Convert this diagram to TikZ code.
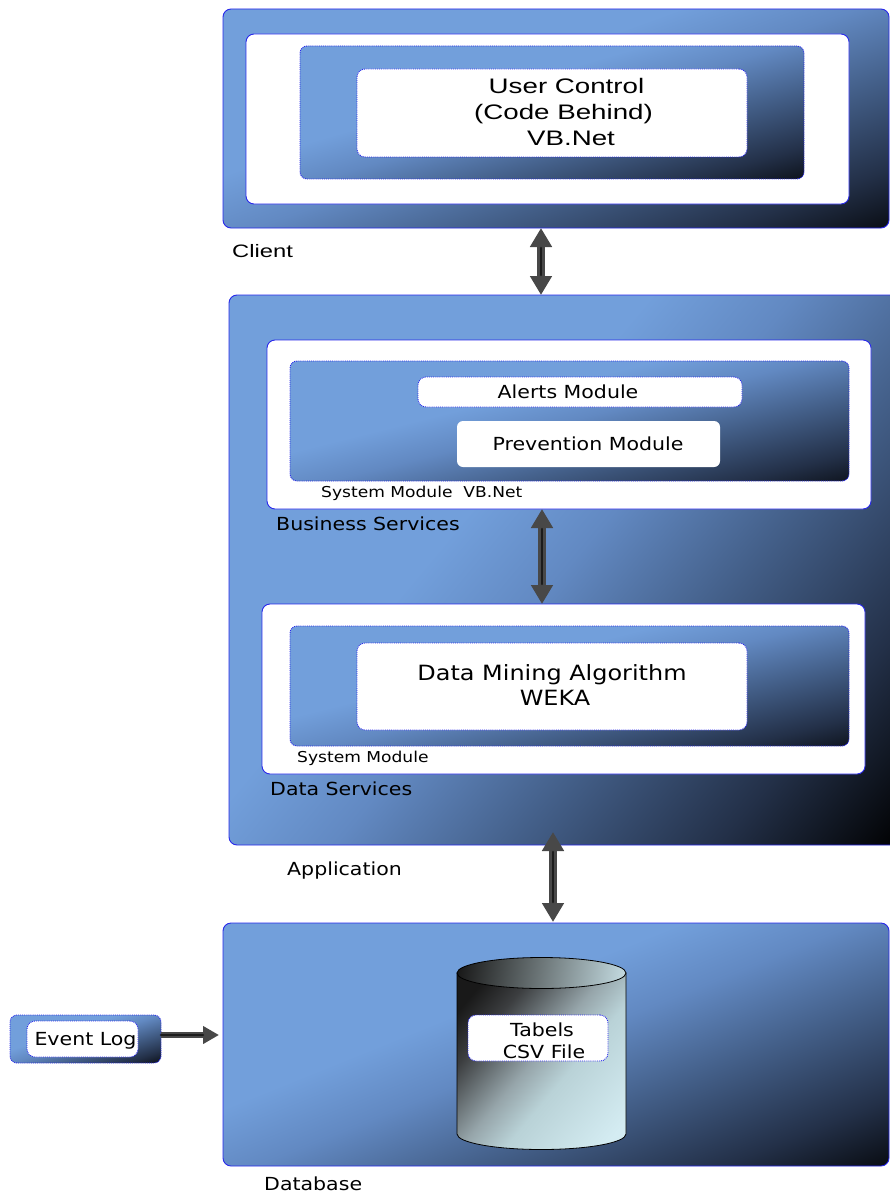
\documentclass[tikz,border=0pt]{standalone}
\usepackage{fontspec}
\usetikzlibrary{arrows.meta}
\newfontfamily\tah[FakeStretch=1.14]{DejaVu Sans}
\newfontfamily\ari[FakeStretch=1.32]{Liberation Sans}
\definecolor{lb}{RGB}{114,159,219}
\definecolor{gmid}{RGB}{98,137,194}
\definecolor{gdark}{RGB}{68,96,138}
\definecolor{gdeep}{RGB}{35,48,72}
\definecolor{bline}{RGB}{40,40,235}
\definecolor{cylA}{RGB}{25,25,25}
\definecolor{cylD}{RGB}{60,62,64}
\definecolor{cylM}{RGB}{150,165,170}
\definecolor{cylB}{RGB}{185,210,215}
\definecolor{cylC}{RGB}{212,236,242}
\definecolor{topM}{RGB}{110,120,122}
\definecolor{topC}{RGB}{195,218,224}
\definecolor{arr}{RGB}{72,72,72}
\definecolor{arrc}{RGB}{28,28,28}
\pgfdeclarehorizontalshading{bdark}{100bp}{color(0bp)=(lb); color(41bp)=(lb); color(50bp)=(gmid); color(61bp)=(gdark); color(74bp)=(gdeep); color(85.4bp)=(black); color(100bp)=(black)}
\pgfdeclarehorizontalshading{cylsh}{100bp}{color(0bp)=(cylA); color(22bp)=(cylA); color(32bp)=(cylD); color(48bp)=(cylM); color(58bp)=(cylB); color(80bp)=(cylC); color(100bp)=(cylC)}
\pgfdeclarehorizontalshading{topsh}{100bp}{color(0bp)=(cylA); color(22bp)=(cylA); color(50bp)=(topM); color(78bp)=(topC); color(100bp)=(topC)}
\begin{document}
\begin{tikzpicture}[x=1pt,y=-1pt,
  outerbox/.style={shade, shading=bdark, shading angle=#1, draw=bline, line width=0.9pt,
    rounded corners=8pt, inner sep=0pt, outer sep=0pt, anchor=north west},
  innerbox/.style={outerbox=#1, densely dotted, rounded corners=7pt},
  whitebox/.style={fill=white, draw=bline, line width=0.9pt, rounded corners=8pt,
    inner sep=0pt, outer sep=0pt, anchor=north west},
  whitedot/.style={whitebox, densely dotted},
  lbl/.style={inner sep=0pt, anchor=base west, font=\tah\fontsize{18}{22}\selectfont},
  ctr/.style={inner sep=0pt, anchor=base, font=\tah\fontsize{18}{22}\selectfont},
  arialtxt/.style={inner sep=0pt, anchor=base, font=\ari\fontsize{21}{25}\selectfont},
  biarrow/.style={draw=arr, line width=8pt,
    {Triangle[width=21pt,length=19pt]}-{Triangle[width=21pt,length=19pt]}},
  onearrow/.style={draw=arr, line width=6pt, -{Triangle[width=17pt,length=16pt]}},
  arrowcore/.style={draw=arrc, line width=2.6pt, line cap=round}
]
\useasboundingbox (0,0) rectangle (890,1193);

% ---------- Client ----------
\node[outerbox=-70, minimum width=666pt, minimum height=219pt] (client) at (223,9) {};
\node[whitebox, minimum width=603pt, minimum height=170pt] (cw) at (246,34) {};
\node[innerbox=-74, minimum width=504pt, minimum height=133pt] (cg) at (300,46) {};
\node[whitedot, minimum width=390pt, minimum height=88pt] (uc) at (357,69) {};
\node[arialtxt] (tuc1) at (566.5,94) {User Control};
\node[arialtxt] (tuc2) at (563.5,120) {(Code Behind)};
\node[arialtxt] (tuc3) at (571,146) {VB.Net};
\node[lbl, font=\ari\fontsize{18}{22}\selectfont] (lclient) at (232,257) {Client};

% ---------- Application ----------
\node[outerbox=-40, minimum width=671pt, minimum height=550pt] (app) at (229,295) {};
\node[whitebox, minimum width=604pt, minimum height=169pt] (bw) at (267,340) {};
\node[innerbox=-76, minimum width=559pt, minimum height=120pt] (bg) at (290,361) {};
\node[whitedot, minimum width=324pt, minimum height=30pt] (alerts) at (418,377) {};
\node[whitebox, draw=none, rounded corners=6pt, minimum width=263pt, minimum height=46pt] (prev) at (457,421) {};
\node[ctr] (talert) at (568,398) {Alerts Module};
\node[ctr] (tprev) at (588,450) {Prevention Module};
\node[lbl, font=\tah\fontsize{15}{18}\selectfont] (lsm1) at (321,497) {System Module\ \ VB.Net};
\node[lbl] (lbus) at (276,530) {Business Services};

\node[whitebox, minimum width=603pt, minimum height=170pt] (dw) at (262,604) {};
\node[innerbox=-76, minimum width=559pt, minimum height=120pt] (dg) at (290,626) {};
\node[whitedot, minimum width=390pt, minimum height=87pt] (dm) at (357,643) {};
\node[ctr, font=\tah\fontsize{21}{25}\selectfont] (tdm1) at (552,680) {Data Mining Algorithm};
\node[ctr, font=\tah\fontsize{21}{25}\selectfont] (tdm2) at (555,705) {WEKA};
\node[lbl, font=\tah\fontsize{15}{18}\selectfont] (lsm2) at (297,762) {System Module};
\node[lbl] (ldat) at (270,795) {Data Services};
\node[lbl] (lapp) at (287,875) {Application};

% ---------- Database ----------
\node[outerbox=-68, minimum width=666pt, minimum height=243pt] (db) at (223,923) {};
\shade[shading=cylsh, shading angle=-40, draw=black, line width=0.8pt]
  (457,973) -- (457,1134) arc[start angle=180, end angle=0, x radius=84.5, y radius=15.5]
  -- (626,973) -- cycle;
\shade[shading=topsh, shading angle=-10, draw=black, line width=0.8pt]
  (541.5,973) ellipse [x radius=84.5, y radius=15.5];
\node[whitedot, minimum width=140pt, minimum height=46pt] (tab) at (468,1015) {};
\node[ctr] (ttab1) at (542,1036) {Tabels};
\node[ctr] (ttab2) at (544,1058) {CSV File};
\node[lbl] (ldb) at (264,1190) {Database};

% ---------- Event Log ----------
\node[innerbox=-72, minimum width=151pt, minimum height=48pt] (evt) at (10,1015) {};
\node[whitedot, minimum width=111pt, minimum height=36pt] (evtw) at (27,1021) {};
\node[ctr] (tevt) at (85.5,1045) {Event Log};

% ---------- Connectors ----------
\coordinate (a1) at (541,0);
\coordinate (a2) at (542,0);
\coordinate (a3t) at (553,832);
\coordinate (a3b) at (553,922);
\coordinate (e1) at (219,1035);
\draw[biarrow] (client.south -| a1) -- (app.north -| a1);
\draw[arrowcore, shorten <=20pt, shorten >=20pt] (client.south -| a1) -- (app.north -| a1);
\draw[biarrow] (bw.south -| a2) -- (dw.north -| a2);
\draw[arrowcore, shorten <=20pt, shorten >=20pt] (bw.south -| a2) -- (dw.north -| a2);
\draw[biarrow] (a3t) -- (a3b);
\draw[arrowcore, shorten <=20pt, shorten >=20pt] (a3t) -- (a3b);
\draw[onearrow] (evt.east |- e1) -- (e1);
\draw[arrowcore, shorten >=16pt] (evt.east |- e1) -- (e1);
\end{tikzpicture}
\end{document}
